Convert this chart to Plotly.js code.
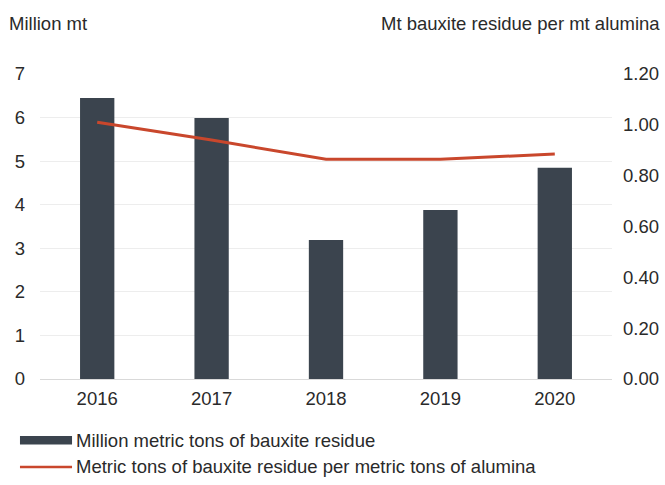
<!DOCTYPE html>
<html>
<head>
<meta charset="utf-8">
<script src="https://cdn.plot.ly/plotly-3.0.1.min.js"></script>
<style>html,body{margin:0;padding:0;background:#fff;}#chart{width:665px;height:485px;}</style>
</head>
<body>
<div id="chart"></div>
<script>
const years = ['2016', '2017', '2018', '2019', '2020'];
const residueMillionTons = [6.45, 5.99, 3.19, 3.88, 4.85];
const residuePerAlumina = [1.01, 0.94, 0.865, 0.865, 0.885];
const leftTicks = [0, 1, 2, 3, 4, 5, 6, 7];
const rightTicks = [0, 0.2, 0.4, 0.6, 0.8, 1.0, 1.2];
const rightTickLabels = ['0.00', '0.20', '0.40', '0.60', '0.80', '1.00', '1.20'];
const barName = 'Million metric tons of bauxite residue';
const lineName = 'Metric tons of bauxite residue per metric tons of alumina';

const barColor = '#3b444e';
const lineColor = '#c9472c';
const fontFam = 'Liberation Sans, Arial, sans-serif';

const data = [
  {type: 'bar', x: years, y: residueMillionTons, name: barName, marker: {color: barColor}, width: 0.3, showlegend: false, yaxis: 'y'},
  {type: 'scatter', mode: 'lines', x: years, y: residuePerAlumina, name: lineName, line: {color: lineColor, width: 3}, showlegend: false, yaxis: 'y2'}
];

const layout = {
  width: 665, height: 485,
  margin: {l: 40, r: 53, t: 74, b: 106},
  paper_bgcolor: '#fff', plot_bgcolor: '#fff',
  font: {family: fontFam, size: 18.5, color: '#2a2a2a'},
  showlegend: false,
  bargap: 0.7,
  xaxis: {type: 'category', showgrid: false, zeroline: false, showline: false, ticks: '', ticklabelstandoff: 6, tickfont: {size: 18.5}},
  yaxis: {range: [0, 7], tickvals: leftTicks, showgrid: true, gridcolor: '#ededed', gridwidth: 1, zeroline: true, zerolinecolor: '#d9d9d9', showline: false, ticks: '', ticklabelstandoff: 14, tickfont: {size: 18.5}},
  yaxis2: {range: [0, 1.2], overlaying: 'y', side: 'right', tickvals: rightTicks, ticktext: rightTickLabels, showgrid: false, zeroline: false, showline: false, ticks: '', ticklabelstandoff: 10, tickfont: {size: 18.5}},
  annotations: [
    {text: 'Million mt', xref: 'paper', yref: 'paper', x: -0.057, y: 1.165, xanchor: 'left', yanchor: 'middle', showarrow: false, font: {size: 18.5}},
    {text: 'Mt bauxite residue per mt alumina', xref: 'paper', yref: 'paper', x: 1.088, y: 1.165, xanchor: 'right', yanchor: 'middle', showarrow: false, font: {size: 18.5}},
    {text: barName, xref: 'paper', yref: 'paper', x: 0.0, y: -0.203, xanchor: 'left', yanchor: 'middle', showarrow: false, font: {size: 18.5}, xshift: 34},
    {text: lineName, xref: 'paper', yref: 'paper', x: 0.0, y: -0.2885, xanchor: 'left', yanchor: 'middle', showarrow: false, font: {size: 18.5}, xshift: 34}
  ],
  shapes: [
    {type: 'rect', xref: 'paper', yref: 'paper', x0: -0.035, x1: 0.056, y0: -0.187, y1: -0.215, fillcolor: barColor, line: {width: 0}},
    {type: 'line', xref: 'paper', yref: 'paper', x0: -0.035, x1: 0.056, y0: -0.2885, y1: -0.2885, line: {color: lineColor, width: 2.5}}
  ]
};

Plotly.newPlot('chart', data, layout, {displayModeBar: false, staticPlot: true});
</script>
</body>
</html>
